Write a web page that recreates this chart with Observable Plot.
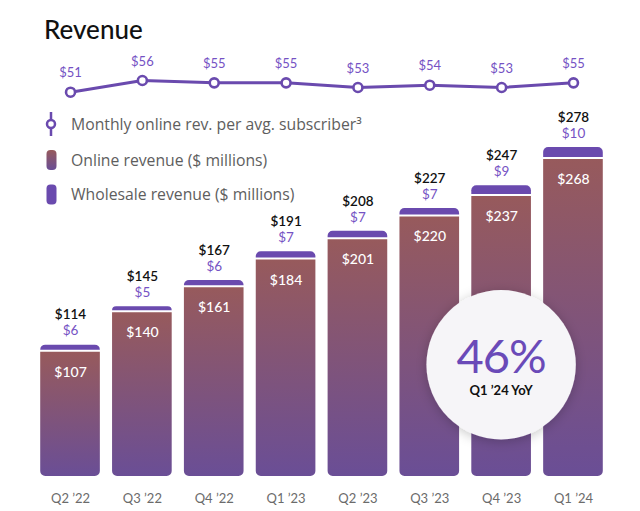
<!DOCTYPE html>
<html><head><meta charset="utf-8">
<script src="https://cdn.jsdelivr.net/npm/d3@7"></script>
<script src="https://cdn.jsdelivr.net/npm/@observablehq/plot@0.6"></script>
<style>
body{margin:0;background:#fff;font-family:Lato,sans-serif;}
#wrap{position:relative;width:640px;height:511px;overflow:hidden;background:#fff;}
#wrap > svg{position:absolute;left:0;top:0;}
</style></head><body><div id="wrap"></div>
<script>
const quarters = ["Q2 ’22","Q3 ’22","Q4 ’22","Q1 ’23","Q2 ’23","Q3 ’23","Q4 ’23","Q1 ’24"];
const onlineRevenue = [107,140,161,184,201,220,237,268];
const wholesaleRevenue = [6,5,6,7,7,7,9,10];
const totalRevenue = [114,145,167,191,208,227,247,278];
const monthlyRevPerSubscriber = [51,56,55,55,53,54,53,55];
const legendLabels = ["Monthly online rev. per avg. subscriber³","Online revenue ($ millions)","Wholesale revenue ($ millions)"];
const titleText = "Revenue";
const calloutValue = "46%";
const calloutLabel = "Q1 ’24 YoY";
const calloutQuarter = "Q4 ’23";

const PURPLE = "#6a4aae";
const LABEL_PURPLE = "#7552c4";
const rows = quarters.map((q,i)=>({q, online:onlineRevenue[i], wholesale:wholesaleRevenue[i], total:totalRevenue[i], top:onlineRevenue[i]+wholesaleRevenue[i], arpu:monthlyRevPerSubscriber[i]}));

const defs = () => {
  const d = d3.create("svg:defs");
  const g = d.append("linearGradient").attr("id","onlineGrad").attr("x1",0).attr("x2",0).attr("y1",0).attr("y2",1);
  g.append("stop").attr("offset","0%").attr("stop-color","#975a5c");
  g.append("stop").attr("offset","100%").attr("stop-color","#6a4e96");
  return d.node();
};

const font = "Lato, sans-serif";
const BAND_PAD = 0.17;
const bars = Plot.plot({
  width:640, height:511, marginLeft:28, marginRight:25, marginTop:147, marginBottom:31,
  style:{fontFamily:font, background:"transparent"},
  x:{type:"band", domain:quarters, padding:BAND_PAD, round:false, axis:null},
  y:{domain:[0,278], axis:null},
  marks:[
    defs,
    Plot.barY(rows,{x:"q", y1:0, y2:"online", fill:"url(#onlineGrad)", insetBottom:4, ry2:5}),
    Plot.barY(rows,{x:"q", y1:"online", y2:"top", fill:PURPLE, insetBottom:2, ry1:5}),
    Plot.text(rows,{x:"q", y:"online", text:d=>"$"+d.online, dy:20, fill:"white", fontSize:14, fontWeight:500}),
    Plot.text(rows,{x:"q", y:"top", text:d=>"$"+d.wholesale, dy:-14, fill:LABEL_PURPLE, fontSize:13.5}),
    Plot.text(rows,{x:"q", y:"top", text:d=>"$"+d.total, dy:-30, fill:"#111", fontSize:13.5, fontWeight:600}),
    Plot.axisX({tickSize:0, tickPadding:13, fontSize:13, color:"#6b6b6b", label:null})
  ]
});

// point scale aligned with the band centres of the bar chart
const line = Plot.plot({
  width:640, height:100, marginLeft:28, marginRight:25, marginTop:80, marginBottom:8.3,
  style:{fontFamily:font, background:"transparent", overflow:"visible"},
  x:{type:"point", domain:quarters, padding:0.5 + BAND_PAD/2, round:false, axis:null},
  y:{domain:[51,56], axis:null},
  marks:[
    Plot.line(rows,{x:"q", y:"arpu", stroke:PURPLE, strokeWidth:3}),
    Plot.dot(rows,{x:"q", y:"arpu", r:4.5, fill:"white", stroke:PURPLE, strokeWidth:2.6}),
    Plot.text(rows,{x:"q", y:"arpu", text:d=>"$"+d.arpu, dy:-19, fill:LABEL_PURPLE, fontSize:13})
  ]
});

const wrap = document.getElementById("wrap");
wrap.appendChild(bars);
wrap.appendChild(line);

// annotations: title, legend, callout
const xs = bars.scale("x");
const cx = xs.apply(calloutQuarter) + xs.bandwidth/2;
const ov = d3.select(wrap).append("svg").attr("width",640).attr("height",511).style("font-family",font);
const od = ov.append("defs");
const lg = od.append("linearGradient").attr("id","legGrad").attr("x1",0).attr("x2",0).attr("y1",0).attr("y2",1);
lg.append("stop").attr("offset","0%").attr("stop-color","#975a5c");
lg.append("stop").attr("offset","100%").attr("stop-color","#6a4e96");
const f = od.append("filter").attr("id","sh").attr("x","-30%").attr("y","-30%").attr("width","160%").attr("height","160%");
f.append("feDropShadow").attr("dx",0).attr("dy",2).attr("stdDeviation",6).attr("flood-color","#000").attr("flood-opacity",0.22);

ov.append("text").attr("x",44).attr("y",39).attr("font-size",26).attr("font-weight",500).attr("fill","#111").text(titleText);

// legend
const leg = ov.append("g");
leg.append("line").attr("x1",51).attr("x2",51).attr("y1",112).attr("y2",136).attr("stroke",PURPLE).attr("stroke-width",2.5);
leg.append("circle").attr("cx",51).attr("cy",124).attr("r",4).attr("fill","white").attr("stroke",PURPLE).attr("stroke-width",2.5);
leg.append("rect").attr("x",46.5).attr("y",150).attr("width",10).attr("height",20).attr("rx",4).attr("fill","url(#legGrad)");
leg.append("rect").attr("x",46.5).attr("y",184.5).attr("width",10).attr("height",20).attr("rx",4).attr("fill",PURPLE);
const ly = [124,160,194.5];
legendLabels.forEach((t,i)=>{
  leg.append("text").attr("x",71).attr("y",ly[i]).attr("dy","0.35em").attr("font-family","'Open Sans', sans-serif").attr("font-size",15.75).attr("fill","#5e5e5e").text(t);
});

// callout
ov.append("circle").attr("cx",cx).attr("cy",364.7).attr("r",74.7).attr("fill","#f6f5f8").attr("filter","url(#sh)");
ov.append("text").attr("x",cx).attr("y",373).attr("text-anchor","middle").attr("font-size",47).attr("letter-spacing",-1).attr("fill","#6a4ab8").text(calloutValue);
ov.append("text").attr("x",cx).attr("y",394.5).attr("text-anchor","middle").attr("font-size",13).attr("font-weight",700).attr("fill","#111").text(calloutLabel);
</script></body></html>
